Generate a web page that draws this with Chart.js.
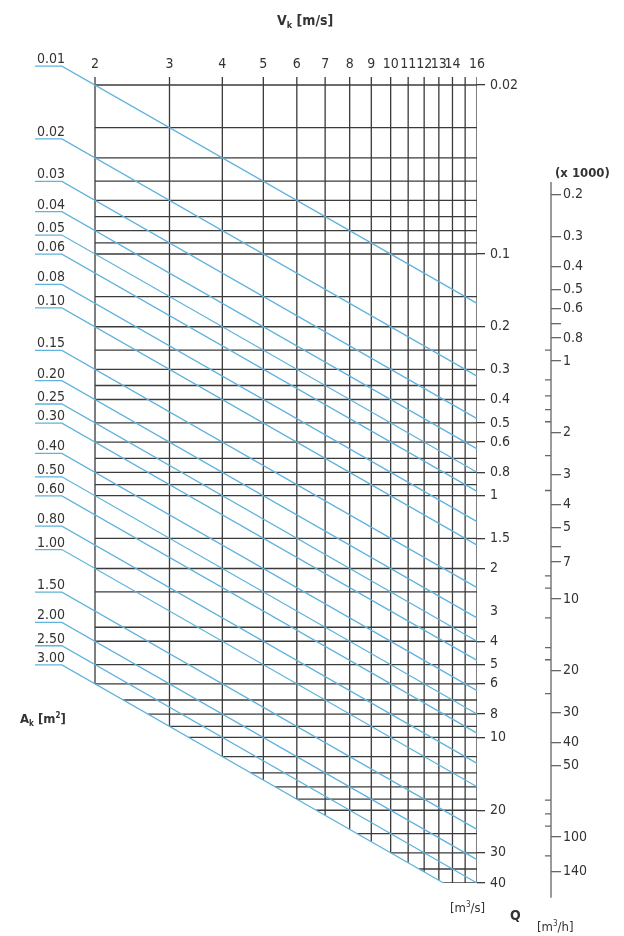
<!DOCTYPE html>
<html>
<head>
<meta charset="utf-8">
<script src="https://cdn.jsdelivr.net/npm/chart.js@4.4.0/dist/chart.umd.min.js"></script>
<style>
html,body{margin:0;padding:0;background:#fff;overflow:hidden}
#wrap{position:relative;width:624px;height:936px}
</style>
</head>
<body>
<div id="wrap"><canvas id="c"></canvas></div>
<script>
// ---- data ----
const velocityTicks = [2, 3, 4, 5, 6, 7, 8, 9, 10, 11, 12, 13, 14, 16];
const velocityGrid = [2, 3, 4, 5, 6, 7, 8, 9, 10, 11, 12, 13, 14, 15, 16];
const flowGrid = [0.02, 0.03, 0.04, 0.05, 0.06, 0.07, 0.08, 0.09, 0.1, 0.15, 0.2, 0.25, 0.3, 0.35, 0.4, 0.5, 0.6, 0.7, 0.8, 0.9, 1, 1.5, 2, 2.5, 3.5, 4, 5, 6, 7, 8, 9, 10, 12, 14, 16, 18, 20, 25, 30, 35, 40];
const flowTicks = [0.02, 0.1, 0.2, 0.3, 0.4, 0.5, 0.6, 0.8, 1, 1.5, 2, 3, 4, 5, 6, 8, 10, 20, 30, 40];
const flowTicksWithoutMark = [3];
const areaValues = [0.01, 0.02, 0.03, 0.04, 0.05, 0.06, 0.08, 0.10, 0.15, 0.20, 0.25, 0.30, 0.40, 0.50, 0.60, 0.80, 1.00, 1.50, 2.00, 2.50, 3.00];
const areaLabels = ['0.01', '0.02', '0.03', '0.04', '0.05', '0.06', '0.08', '0.10', '0.15', '0.20', '0.25', '0.30', '0.40', '0.50', '0.60', '0.80', '1.00', '1.50', '2.00', '2.50', '3.00'];
const hourTicks = [0.2, 0.3, 0.4, 0.5, 0.6, 0.7, 0.8, 1, 2, 3, 4, 5, 6, 7, 10, 20, 30, 40, 50, 100, 140];
const hourTicksUnlabeled = [0.7, 6];
const hourMinorTicks = [0.9, 1.2, 1.4, 1.6, 1.8, 2.5, 3.5, 8, 9, 12, 16, 18, 25, 70, 80, 90, 120];
const hourAxisExtent = [0.177, 180];

// ---- scale ranges ----
const X_MIN = 1.4427, X_MAX = 16;
const Y_MIN = 0.01853, Y_MAX = 40;
const YH_MIN = 0.06407, YH_MAX = 156.1;
const LABEL_V = 1.67; // velocity where each area line turns from its underline into the diagonal

const FONT = "'Liberation Sans Narrow', 'DejaVu Sans Condensed', 'Arial Narrow', sans-serif";
const GRID = '#3b3b3b';
const BLUE = '#5fb3dc';
const TEXT = '#333333';

const vMin = velocityGrid[0], vMax = velocityGrid[velocityGrid.length - 1];
const qMax = flowGrid[flowGrid.length - 1];
const aMax = areaValues[areaValues.length - 1];

const datasets = [];
const gridStyle = { borderColor: GRID, borderWidth: 1.3, pointRadius: 0, fill: false, order: 2 };
velocityGrid.forEach(v => datasets.push(Object.assign({
  data: [{ x: v, y: Y_MIN }, { x: v, y: Math.min(qMax, aMax * v) }]
}, gridStyle)));
flowGrid.forEach(q => datasets.push(Object.assign({
  data: [{ x: Math.max(vMin, q / aMax), y: q }, { x: vMax, y: q }]
}, gridStyle)));
areaValues.forEach(a => {
  const vEnd = Math.min(vMax, qMax / a);
  datasets.push({
    data: [{ x: X_MIN, y: a * LABEL_V }, { x: LABEL_V, y: a * LABEL_V }, { x: vEnd, y: a * vEnd }],
    borderColor: BLUE, borderWidth: 1.3, pointRadius: 0, fill: false, clip: false, order: 1
  });
});

function drawParts(ctx, x, y, parts) {
  for (const [t, size, bold, dy] of parts) {
    ctx.font = (bold ? 'bold ' : '') + size + 'px ' + FONT;
    ctx.fillText(t, x, y + dy);
    x += ctx.measureText(t).width;
  }
}

const annotate = {
  id: 'annotate',
  afterDraw(chart) {
    const { ctx } = chart;
    const { x, y, yh } = chart.scales;
    ctx.save();
    ctx.fillStyle = TEXT;
    ctx.textAlign = 'left';
    ctx.textBaseline = 'alphabetic';
    // area labels above their underlines
    ctx.font = '14px ' + FONT;
    areaValues.forEach((a, i) => {
      ctx.fillText(areaLabels[i], x.getPixelForValue(X_MIN) + 2, y.getPixelForValue(a * LABEL_V) - 3);
    });
    // m3/h axis line and minor ticks
    const ax = yh.left;
    ctx.strokeStyle = '#666';
    ctx.lineWidth = 1.3;
    ctx.beginPath();
    ctx.moveTo(ax, yh.getPixelForValue(hourAxisExtent[0]));
    ctx.lineTo(ax, yh.getPixelForValue(hourAxisExtent[1]));
    hourMinorTicks.forEach(v => {
      const py = yh.getPixelForValue(v);
      ctx.moveTo(ax - 6, py);
      ctx.lineTo(ax, py);
    });
    ctx.stroke();
    // titles
    drawParts(ctx, 277, 25, [['V', 14, true, 0], ['k', 9, true, 3], [' [m/s]', 14, true, 0]]);
    drawParts(ctx, 20, 723, [['A', 13, true, 0], ['k', 8, true, 3], [' [m', 13, true, 0], ['2', 8, true, -5], [']', 13, true, 0]]);
    drawParts(ctx, 450, 912, [['[m', 13, false, 0], ['3', 8, false, -5], ['/s]', 13, false, 0]]);
    drawParts(ctx, 510, 920, [['Q', 14, true, 0]]);
    drawParts(ctx, 537, 931, [['[m', 13, false, 0], ['3', 8, false, -5], ['/h]', 13, false, 0]]);
    drawParts(ctx, ax + 4, 177, [['(x 1000)', 13, true, 0]]);
    ctx.restore();
  }
};

Chart.defaults.font.family = FONT;
Chart.defaults.color = TEXT;

new Chart(document.getElementById('c'), {
  type: 'line',
  data: { datasets },
  plugins: [annotate],
  options: {
    responsive: true,
    maintainAspectRatio: false,
    animation: false,
    events: [],
    layout: { padding: { left: 35, right: 0, top: 0, bottom: 53 } },
    plugins: { legend: { display: false }, tooltip: { enabled: false }, title: { display: false } },
    scales: {
      x: {
        type: 'logarithmic', position: 'top', min: X_MIN, max: X_MAX, bounds: 'data',
        afterBuildTicks: s => { s.ticks = velocityTicks.map(v => ({ value: v })); },
        afterFit: s => { s.height = 77; },
        ticks: { autoSkip: false, maxRotation: 0, minRotation: 0, padding: 4, font: { size: 14 }, color: TEXT,
                 callback: v => String(v) },
        grid: { display: false, drawTicks: false },
        border: { display: false }
      },
      y: {
        type: 'logarithmic', position: 'right', weight: 0, reverse: true, min: Y_MIN, max: Y_MAX, bounds: 'data',
        afterBuildTicks: s => { s.ticks = flowTicks.map(v => ({ value: v })); },
        afterFit: s => { s.width = 74; },
        ticks: { autoSkip: false, padding: 5, font: { size: 14 }, color: TEXT, callback: v => String(v) },
        grid: {
          drawOnChartArea: false, drawTicks: true, tickLength: 8, tickWidth: 1.3, lineWidth: 1.3,
          color: GRID,
          tickColor: c => (c.tick && flowTicksWithoutMark.includes(c.tick.value)) ? 'rgba(0,0,0,0)' : GRID
        },
        border: { display: false }
      },
      yh: {
        type: 'logarithmic', position: 'right', weight: 1, reverse: true, min: YH_MIN, max: YH_MAX, bounds: 'data',
        afterBuildTicks: s => { s.ticks = hourTicks.map(v => ({ value: v })); },
        afterFit: s => { s.width = 73; },
        ticks: { autoSkip: false, padding: 2, font: { size: 14 }, color: TEXT,
                 callback: v => hourTicksUnlabeled.includes(v) ? '' : String(v) },
        grid: { drawOnChartArea: false, drawTicks: true, tickLength: 10, tickWidth: 1.3, lineWidth: 1.3, color: '#666', tickColor: '#666' },
        border: { display: false }
      }
    }
  }
});
</script>
</body>
</html>
